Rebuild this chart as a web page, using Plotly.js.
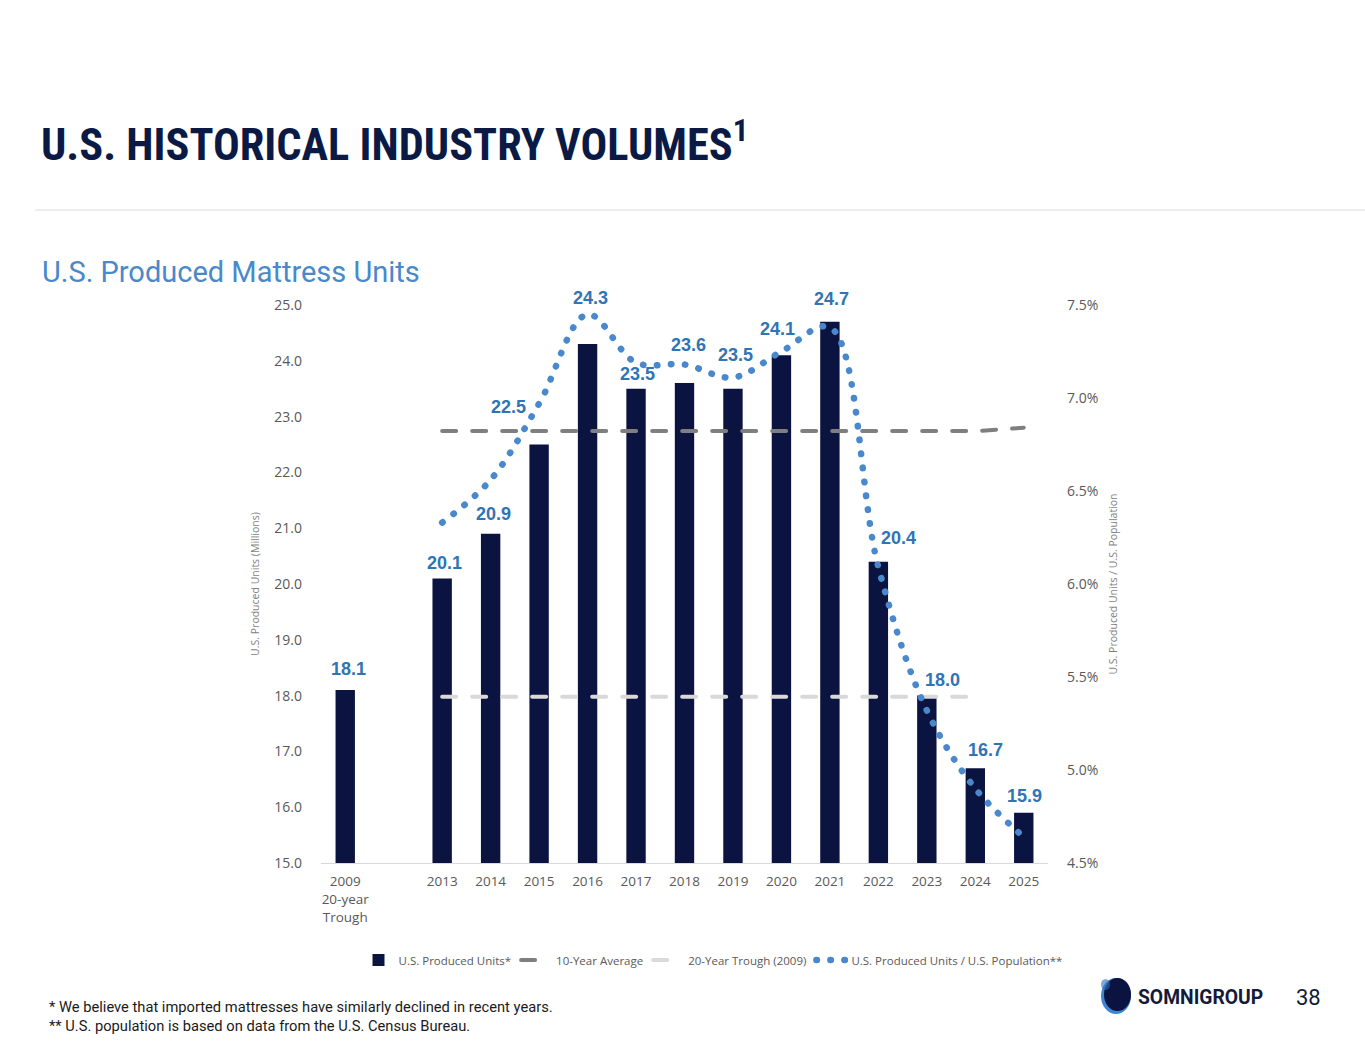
<!DOCTYPE html>
<html>
<head>
<meta charset="utf-8">
<script src="https://cdn.plot.ly/plotly-3.0.1.min.js"></script>
<style>
  html, body { margin: 0; padding: 0; background: #ffffff; }
  #chart { width: 1365px; height: 1055px; }
  .scatterlayer .js-line { stroke-linecap: round; }
  .legend .js-line { stroke-linecap: round; }
</style>
</head>
<body>
<div id="chart"></div>
<script>
// ---------------- data ----------------
const categories = ['2009', 'gap', '2013', '2014', '2015', '2016', '2017', '2018', '2019', '2020', '2021', '2022', '2023', '2024', '2025'];
const tickCategories = ['2009', '2013', '2014', '2015', '2016', '2017', '2018', '2019', '2020', '2021', '2022', '2023', '2024', '2025'];
const tickLabels = ['2009<br>20-year<br>Trough', '2013', '2014', '2015', '2016', '2017', '2018', '2019', '2020', '2021', '2022', '2023', '2024', '2025'];
const producedUnits = [18.1, null, 20.1, 20.9, 22.5, 24.3, 23.5, 23.6, 23.5, 24.1, 24.7, 20.4, 18.0, 16.7, 15.9];
const tenYearAverage = [null, null, 22.74, 22.74, 22.74, 22.74, 22.74, 22.74, 22.74, 22.74, 22.74, 22.74, 22.74, 22.74, 22.80];
const twentyYearTrough = [null, null, 17.98, 17.98, 17.98, 17.98, 17.98, 17.98, 17.98, 17.98, 17.98, 17.98, 17.98, 17.98, null];
const unitsPerPopulation = [null, null, 6.33, 6.56, 6.97, 7.45, 7.19, 7.18, 7.11, 7.25, 7.38, 6.09, 5.32, 4.90, 4.64];

// ---------------- label placement (styling, px offsets) ----------------
const labelShiftX = [3, 0, 2, 3, -31, 3, 1, 4, 3, -4, 2, 20, 16, 10, 1];
const labelShiftY = [21, 0, 15, 20, 38, 46, 15, 38, 34, 26, 23, 24, 16, 18, 17];

// ---------------- page geometry helpers ----------------
const M = { l: 321, r: 317, t: 305, b: 192 };
const PW = 1365 - M.l - M.r, PH = 1055 - M.t - M.b;
const px = x => (x - M.l) / PW;
const py = y => (M.t + PH - y) / PH;

const navy = '#0b1440';
const labelBlue = '#2f74b5';
const dotBlue = '#4a88cc';
const tickGray = '#595959';

const traces = [
  {
    type: 'bar', name: 'U.S. Produced Units*', x: categories, y: producedUnits,
    marker: { color: navy }, yaxis: 'y'
  },
  {
    type: 'scatter', mode: 'lines', name: '10-Year Average', x: categories, y: tenYearAverage,
    line: { color: '#7f7f7f', width: 4, dash: '14px,16px' }, yaxis: 'y'
  },
  {
    type: 'scatter', mode: 'lines', name: '20-Year Trough (2009)', x: categories, y: twentyYearTrough,
    line: { color: '#d9d9d9', width: 4, dash: '14px,16px' }, yaxis: 'y'
  },
  {
    type: 'scatter', mode: 'lines', name: 'U.S. Produced Units / U.S. Population**', x: categories, y: unitsPerPopulation,
    line: { color: dotBlue, width: 6.5, dash: '0.5px,13.5px', shape: 'spline', smoothing: 1 }, yaxis: 'y2'
  }
];

const annotations = [];
producedUnits.forEach((v, i) => {
  if (v === null) return;
  annotations.push({
    x: i, y: v, xref: 'x', yref: 'y', showarrow: false,   // x = category serial number
    text: v.toFixed(1), xanchor: 'center', yanchor: 'middle',
    xshift: labelShiftX[i], yshift: labelShiftY[i],
    font: { family: 'Liberation Sans, Arial, sans-serif', size: 18, color: labelBlue, weight: 'bold' }
  });
});

const pageText = [
  { text: 'U.S. Produced Mattress Units', x: 40, y: 272, size: 29, color: '#4a88cc', family: 'Roboto, sans-serif', weight: 'normal' },
  { text: '* We believe that imported mattresses have similarly declined in recent years.', x: 47, y: 1007, size: 14.7, color: '#1a1a1a', family: 'Roboto, sans-serif', weight: 'normal' },
  { text: '** U.S. population is based on data from the U.S. Census Bureau.', x: 47, y: 1026, size: 14.7, color: '#1a1a1a', family: 'Roboto, sans-serif', weight: 'normal' },
  { text: 'SOMNIGROUP', x: 1136, y: 997, size: 19.3, color: '#141a3a', family: 'Roboto, sans-serif', weight: 'bold' },
  { text: '38', x: 1294, y: 997, size: 22, color: '#141a3a', family: 'Roboto, sans-serif', weight: 'normal' }
];
pageText.forEach(t => annotations.push({
  text: t.text, x: px(t.x), y: py(t.y), xref: 'paper', yref: 'paper', xanchor: 'left', yanchor: 'middle',
  showarrow: false, font: { family: t.family, size: t.size, color: t.color, weight: t.weight }
}));

const shapes = [
  { type: 'line', xref: 'paper', yref: 'paper', x0: px(35), x1: px(1365), y0: py(210), y1: py(210),
    line: { color: '#dedede', width: 1.2 } },
  // logo mark
  { type: 'circle', xref: 'paper', yref: 'paper', x0: px(1101), x1: px(1131), y0: py(978), y1: py(1014),
    fillcolor: '#3c86d4', line: { width: 0 } },
  { type: 'circle', xref: 'paper', yref: 'paper', x0: px(1104), x1: px(1131), y0: py(978), y1: py(1011),
    fillcolor: '#0b1440', line: { width: 0 } },
  { type: 'circle', xref: 'paper', yref: 'paper', x0: px(1101), x1: px(1110), y0: py(979), y1: py(990),
    fillcolor: '#2f6fb8', line: { width: 0 }, opacity: 0.6 }
];

const layout = {
  width: 1365, height: 1055,
  margin: M,
  paper_bgcolor: '#ffffff', plot_bgcolor: '#ffffff',
  font: { family: 'Open Sans, sans-serif', color: tickGray },
  title: {
    text: 'U.S. HISTORICAL INDUSTRY VOLUMES<sup>1</sup>',
    xref: 'container', yref: 'container', x: 41 / 1365, xanchor: 'left', y: 1 - 144 / 1055, yanchor: 'middle',
    font: { family: 'Liberation Sans Narrow, Roboto Condensed, DejaVu Sans Condensed, Roboto, sans-serif', size: 44.4, color: '#0b1a45', weight: 'bold' }
  },
  bargap: 0.6,
  showlegend: true,
  legend: {
    orientation: 'h', x: px(713), xanchor: 'center', y: py(960), yanchor: 'middle',
    font: { family: 'Open Sans, sans-serif', size: 11.5, color: tickGray },
    itemwidth: 30, traceorder: 'normal'
  },
  xaxis: {
    type: 'category', categoryorder: 'array', categoryarray: categories,
    tickmode: 'array', tickvals: tickCategories, ticktext: tickLabels,
    range: [-0.5, categories.length - 0.5],
    showline: true, linecolor: '#d9d9d9', linewidth: 1.2, ticks: '', showgrid: false, zeroline: false,
    tickfont: { family: 'Open Sans, sans-serif', size: 13.5, color: tickGray }, ticklabelstandoff: 6
  },
  yaxis: {
    range: [15, 25], dtick: 1, tick0: 15, tickformat: '.1f', showgrid: false, zeroline: false, showline: false,
    ticks: '', ticklabelstandoff: 18,
    tickfont: { family: 'Open Sans, sans-serif', size: 14, color: tickGray },
    title: { text: 'U.S. Produced Units (Millions)', standoff: 12, font: { family: 'Open Sans, sans-serif', size: 10.5, color: '#7f7f7f' } }
  },
  yaxis2: {
    overlaying: 'y', side: 'right', range: [4.5, 7.5], dtick: 0.5, tick0: 4.5, tickformat: '.1f', ticksuffix: '%',
    showgrid: false, zeroline: false, showline: false, ticks: '', ticklabelstandoff: 18,
    tickfont: { family: 'Open Sans, sans-serif', size: 14, color: tickGray },
    title: { text: 'U.S. Produced Units / U.S. Population', standoff: 12, font: { family: 'Open Sans, sans-serif', size: 10.5, color: '#7f7f7f' } }
  },
  annotations: annotations,
  shapes: shapes
};

Plotly.newPlot('chart', traces, layout, { displayModeBar: false, staticPlot: true });
</script>
</body>
</html>
